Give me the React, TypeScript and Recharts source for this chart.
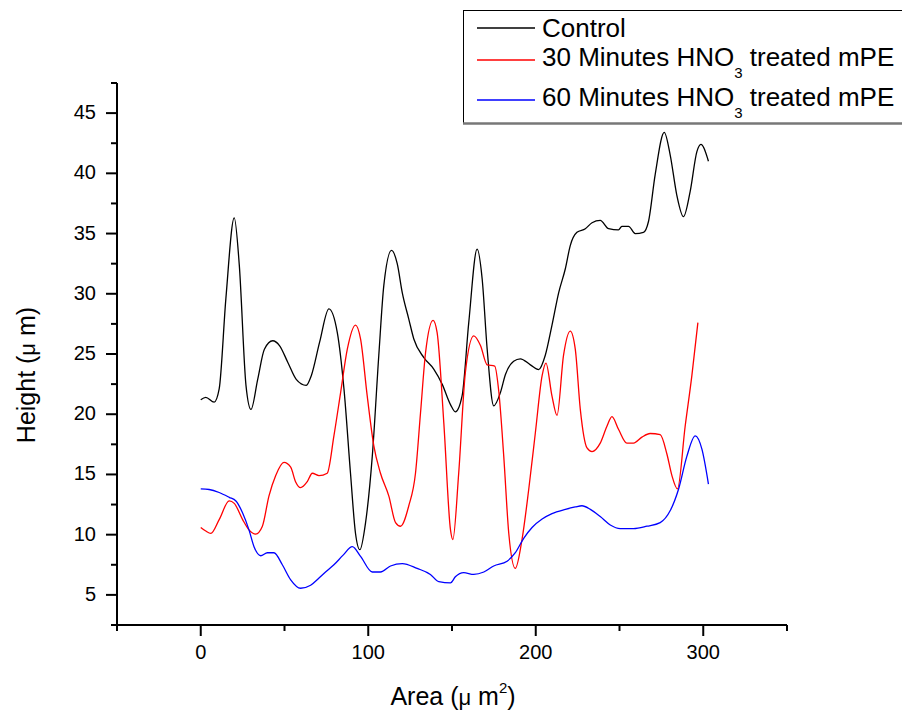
import React from 'react';
import { LineChart, Line, XAxis, YAxis, Legend } from 'recharts';

const controlArea = [0, 3, 8, 11, 15, 20, 23, 27, 30, 34, 38, 43, 47, 52, 57, 63, 66, 71, 76.5, 81.5, 85.5, 89.4, 92.4, 95, 98.4, 102.4, 106.3, 109.3, 113.9, 117.3, 120.3, 124.2, 127.2, 133.2, 139.1, 144.1, 149.1, 152, 156, 160, 165, 168, 171, 174.9, 178.9, 181.9, 186.8, 190.8, 196.8, 201.7, 205.7, 209.7, 213.7, 217.7, 220.6, 224.6, 229.6, 233.6, 238.5, 243.5, 249.4, 251.4, 255.4, 259.4, 264.3, 267.3, 271.3, 276.7, 280.3, 284.2, 288.2, 292.2, 296.2, 298.6, 303.1];
const controlHeight = [21.2, 21.4, 21.0, 22.1, 29.6, 36.3, 32.4, 22.4, 20.4, 22.9, 25.4, 26.1, 25.7, 24.3, 22.9, 22.4, 23.2, 26.0, 28.75, 26.8, 22.1, 15.1, 10.1, 8.75, 11.0, 16.5, 24.9, 30.7, 33.6, 32.5, 30.1, 27.9, 26.25, 24.7, 23.75, 22.5, 20.8, 20.2, 21.5, 27.6, 33.7, 31.25, 25.4, 20.7, 21.8, 23.3, 24.4, 24.6, 24.1, 23.7, 24.9, 27.4, 30.1, 32.1, 34.0, 35.1, 35.4, 35.9, 36.1, 35.4, 35.3, 35.6, 35.6, 35.0, 35.1, 36.0, 39.9, 43.4, 41.5, 38.2, 36.4, 38.5, 41.8, 42.4, 41.0];

const red30Area = [0, 3, 6, 11, 17, 20, 25, 28.8, 32.8, 36.8, 40.7, 44.7, 49.7, 53.7, 56.6, 59.6, 63.6, 66.6, 70.6, 75.5, 79.5, 83.5, 87.5, 92.4, 95.4, 99.4, 103.3, 107.3, 112.3, 116.3, 119.3, 124.2, 128.2, 131.2, 134.2, 138.7, 141.1, 145.1, 149.1, 150.5, 154, 158, 163, 167, 171, 175.5, 178, 180.9, 183.9, 187.8, 191.8, 195.8, 199.8, 203.8, 206.1, 209.7, 212.7, 216.6, 220.6, 223.6, 226.6, 230.6, 233.6, 238.5, 242.5, 245.5, 249.4, 254.4, 258.4, 263.4, 268.3, 274.3, 278.3, 281.3, 284.6, 289.2, 293.2, 296.8];
const red30Height = [10.6, 10.3, 10.1, 11.25, 12.8, 12.6, 11.25, 10.4, 10.05, 10.7, 13.2, 14.9, 16.0, 15.6, 14.4, 13.9, 14.4, 15.1, 14.9, 15.1, 18.2, 21.8, 25.4, 27.4, 26.25, 21.5, 17.4, 15.1, 13.2, 11.0, 10.7, 12.4, 15.1, 20.1, 25.1, 27.8, 26.8, 19.3, 10.4, 9.6, 15.1, 23.5, 26.5, 25.7, 24.1, 24.0, 21.8, 16.5, 10.1, 7.2, 9.6, 13.75, 18.5, 23.2, 24.25, 21.5, 19.9, 24.9, 26.9, 25.4, 20.4, 17.2, 16.9, 17.6, 19.0, 19.8, 18.75, 17.6, 17.6, 18.1, 18.4, 18.3, 16.7, 14.9, 13.8, 19.0, 23.2, 27.6];

const blue60Area = [0, 5, 11, 17, 21, 25, 28.8, 31.8, 35.8, 39.8, 43.7, 48.7, 53.7, 59.6, 65.6, 70.6, 74.5, 79.5, 85, 90.5, 95.4, 102.4, 107.3, 113.3, 120.3, 129.2, 137.1, 142.1, 149.1, 152, 157, 163, 169, 174.9, 182.9, 187.8, 192.8, 197.8, 203.8, 209.7, 217.7, 223.6, 227.6, 232.6, 238.5, 244.5, 250.4, 258.4, 266.4, 274.3, 280.3, 285.2, 290.2, 295.2, 299.2, 303.1];
const blue60Height = [13.8, 13.75, 13.5, 13.1, 12.8, 11.8, 10.4, 9.0, 8.25, 8.5, 8.5, 7.5, 6.25, 5.55, 5.8, 6.4, 6.9, 7.5, 8.3, 9.0, 8.2, 6.9, 6.9, 7.4, 7.6, 7.2, 6.7, 6.1, 6.0, 6.5, 6.85, 6.7, 6.9, 7.4, 7.8, 8.5, 9.7, 10.6, 11.3, 11.75, 12.1, 12.3, 12.4, 12.1, 11.5, 10.8, 10.5, 10.5, 10.7, 11.0, 12.0, 13.75, 16.5, 18.2, 17.1, 14.2];

const xTicks = [-50, 0, 50, 100, 150, 200, 250, 300, 350];
const xLabels = [0, 100, 200, 300];
const yTicks = [2.5, 5, 7.5, 10, 12.5, 15, 17.5, 20, 22.5, 25, 27.5, 30, 32.5, 35, 37.5, 40, 42.5, 45, 47.5];

const FONT = '"Liberation Sans", Arial, sans-serif';

const toPoints = (xs: number[], ys: number[]) => xs.map((x, i) => ({ x, y: ys[i] }));

const controlData = toPoints(controlArea, controlHeight);
const red30Data = toPoints(red30Area, red30Height);
const blue60Data = toPoints(blue60Area, blue60Height);

const XTick = (props: any) => {
  const { x, y, payload } = props;
  const major = xLabels.includes(payload.value);
  return (
    <g>
      <line x1={x} y1={y} x2={x} y2={y + (major ? 11 : 6)} stroke="#000" strokeWidth={2} />
      {major && (
        <text x={x} y={y + 34} textAnchor="middle" fontSize={20} fontFamily={FONT} fill="#000">
          {payload.value}
        </text>
      )}
    </g>
  );
};

const YTick = (props: any) => {
  const { x, y, payload } = props;
  const major = payload.value % 5 === 0;
  return (
    <g>
      <line x1={x} y1={y} x2={x - (major ? 11 : 6)} y2={y} stroke="#000" strokeWidth={2} />
      {major && (
        <text x={x - 21} y={y + 6} textAnchor="end" fontSize={20} fontFamily={FONT} fill="#000">
          {payload.value}
        </text>
      )}
    </g>
  );
};

const XTitle = () => (
  <text x={453} y={705} textAnchor="middle" fontSize={25} fontFamily={FONT} fill="#000">
    Area (<tspan fontSize={22}>μ</tspan> m<tspan fontSize={15} dy={-12}>2</tspan>
    <tspan dy={12}>)</tspan>
  </text>
);

const YTitle = () => (
  <text
    x={35}
    y={375}
    transform="rotate(-90, 35, 375)"
    textAnchor="middle"
    fontSize={25}
    fontFamily={FONT}
    fill="#000"
  >
    Height (<tspan fontSize={22}>μ</tspan> m)
  </text>
);

const legendRows = [
  { color: '#000000', lineY: 28, textY: 37, name: 'Control', sub: '' },
  { color: '#ff0000', lineY: 60, textY: 66, name: '30 Minutes HNO', sub: '3' },
  { color: '#0000ff', lineY: 100, textY: 106, name: '60 Minutes HNO', sub: '3' },
];

const LegendBox = () => (
  <svg width={439} height={116} style={{ display: 'block' }}>
    <line x1={0.5} y1={0.5} x2={439} y2={0.5} stroke="#000" strokeWidth={1} />
    <line x1={0.5} y1={0} x2={0.5} y2={113} stroke="#000" strokeWidth={1} />
    <line x1={0} y1={113.5} x2={439} y2={113.5} stroke="#777" strokeWidth={2.5} />
    {legendRows.map((r) => (
      <g key={r.name}>
        <line x1={14} y1={r.lineY - 10} x2={72} y2={r.lineY - 10} stroke={r.color} strokeWidth={1.3} />
        <text x={79} y={r.textY - 10} fontSize={26} fontFamily={FONT} fill="#000" style={{ whiteSpace: 'pre' }}>
          {r.name}
          {r.sub && (
            <>
              <tspan fontSize={15} dy={12}>{r.sub}</tspan>
              <tspan dy={-12}> treated mPE</tspan>
            </>
          )}
        </text>
      </g>
    ))}
  </svg>
);

export default function App() {
  return (
    <div style={{ position: 'absolute', left: 0, top: 0, width: 902, height: 711, background: '#fff' }}>
      <LineChart width={902} height={711} margin={{ top: 83, right: 115, bottom: 0, left: 0 }}>
        <XAxis
          type="number"
          dataKey="x"
          domain={[-50, 350]}
          ticks={xTicks}
          interval={0}
          allowDataOverflow
          height={86}
          tickSize={0}
          tickMargin={0}
          tickLine={false}
          axisLine={{ stroke: '#000', strokeWidth: 2 }}
          tick={<XTick />}
          label={<XTitle />}
        />
        <YAxis
          type="number"
          dataKey="y"
          domain={[2.5, 47.5]}
          ticks={yTicks}
          interval={0}
          allowDataOverflow
          width={117}
          tickSize={0}
          tickMargin={0}
          tickLine={false}
          axisLine={{ stroke: '#000', strokeWidth: 2 }}
          tick={<YTick />}
          label={<YTitle />}
        />
        <Legend
          layout="horizontal"
          verticalAlign="middle"
          content={() => <LegendBox />}
          wrapperStyle={{ position: 'absolute', left: 463, top: 10, width: 439, height: 116 }}
        />
        <Line data={controlData} dataKey="y" name="Control" type="monotone" stroke="#000000" strokeWidth={1.3} dot={false} isAnimationActive={false} />
        <Line data={red30Data} dataKey="y" name="30 Minutes HNO3 treated mPE" type="monotone" stroke="#ff0000" strokeWidth={1.3} dot={false} isAnimationActive={false} />
        <Line data={blue60Data} dataKey="y" name="60 Minutes HNO3 treated mPE" type="monotone" stroke="#0000ff" strokeWidth={1.3} dot={false} isAnimationActive={false} />
      </LineChart>
    </div>
  );
}
